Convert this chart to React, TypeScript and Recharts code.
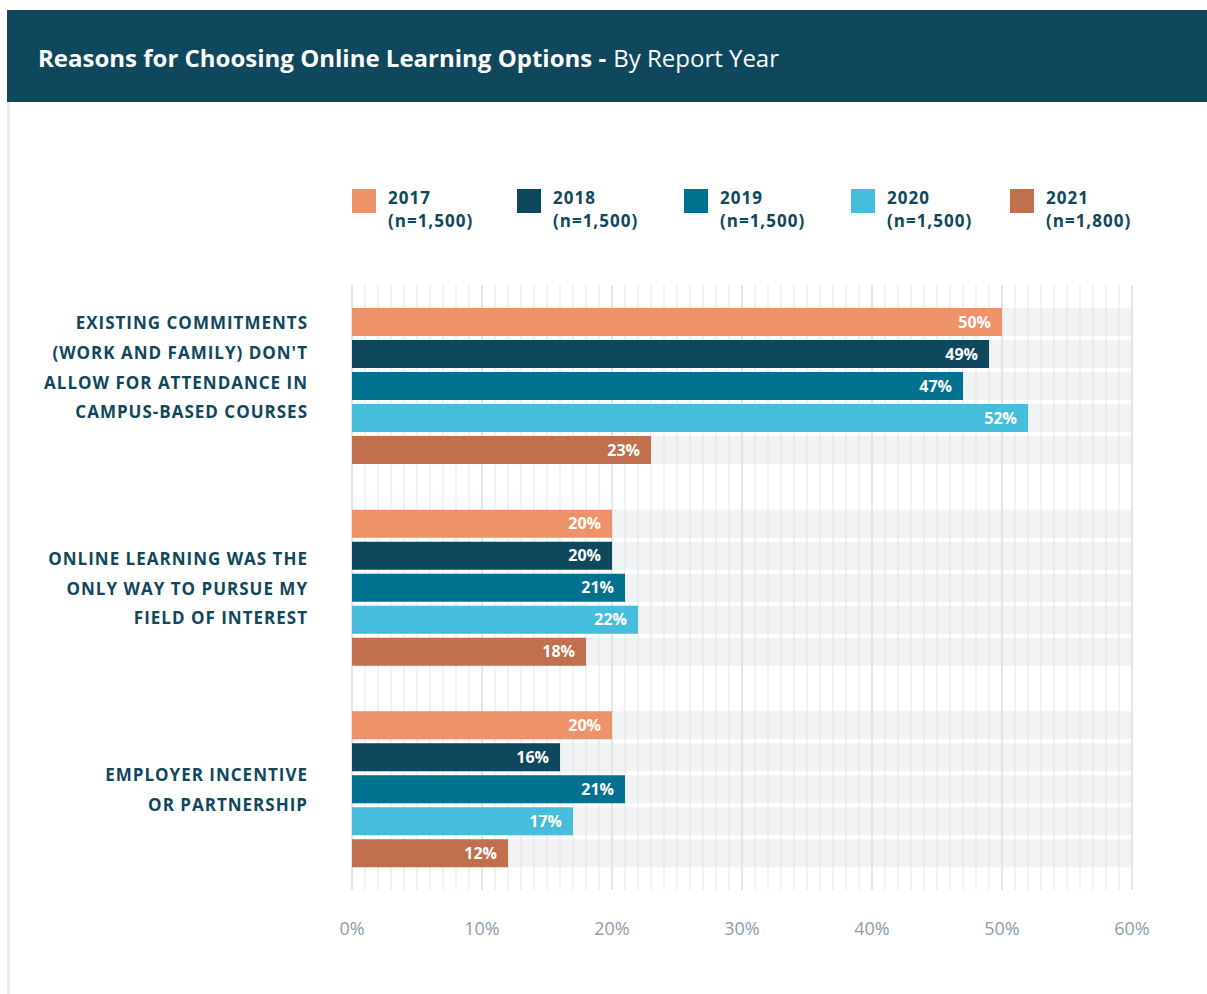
import { BarChart, Bar, XAxis, YAxis, CartesianGrid, LabelList } from "recharts";

const categories = [
  "EXISTING COMMITMENTS\n(WORK AND FAMILY) DON'T\nALLOW FOR ATTENDANCE IN\nCAMPUS-BASED COURSES",
  "ONLINE LEARNING WAS THE\nONLY WAY TO PURSUE MY\nFIELD OF INTEREST",
  "EMPLOYER INCENTIVE\nOR PARTNERSHIP",
];
const years = ["2017", "2018", "2019", "2020", "2021"];
const sampleSizes = ["(n=1,500)", "(n=1,500)", "(n=1,500)", "(n=1,500)", "(n=1,800)"];
const colors = ["#ee9369", "#0f475c", "#00718f", "#46bdda", "#c0704e"];
const v2017 = [50, 20, 20];
const v2018 = [49, 20, 16];
const v2019 = [47, 21, 21];
const v2020 = [52, 22, 17];
const v2021 = [23, 18, 12];
const xTicks = [0, 10, 20, 30, 40, 50, 60];
const minorTicks = Array.from({ length: 61 }, (_, i) => i);

const seriesValues = [v2017, v2018, v2019, v2020, v2021];
const data = categories.map((name, i) => {
  const row: Record<string, string | number> = { name };
  years.forEach((y, k) => (row[y] = seriesValues[k][i]));
  return row;
});

const FONT = "'Open Sans', sans-serif";
const DARK = "#0f475c";
const legendWidths = [165, 167, 167, 159, 159];

function CategoryTick({ x, y, payload }: any) {
  const lines = String(payload.value).split("\n");
  const lh = 29.7;
  const shift = lines.length > 3 ? -19 : 0;
  const start = y - ((lines.length - 1) * lh) / 2 + shift;
  return (
    <text
      x={x}
      y={start}
      textAnchor="end"
      fill={DARK}
      fontFamily={FONT}
      fontWeight={700}
      fontSize={17}
      letterSpacing={1}
      dominantBaseline="central"
    >
      {lines.map((l, i) => (
        <tspan key={i} x={x} y={start + i * lh}>
          {l}
        </tspan>
      ))}
    </text>
  );
}

export default function App() {
  return (
    <div
      style={{
        position: "absolute",
        width: 1200,
        height: 984,
        left: 7,
        top: 10,
        fontFamily: FONT,
        background: "#fff",
      }}
    >
      <style>{"html,body{margin:0;padding:0;overflow:hidden}"}</style>
      <div
        style={{
          position: "absolute",
          left: 0,
          top: 0,
          width: 1200,
          height: 92,
          background: DARK,
          color: "#fff",
          display: "flex",
          alignItems: "center",
          paddingLeft: 31,
          paddingTop: 3,
          boxSizing: "border-box",
          fontSize: 24,
        }}
      >
        <span style={{ fontWeight: 700 }}>Reasons for Choosing Online Learning Options -</span>
        <span style={{ fontWeight: 400, marginLeft: 7 }}>By Report Year</span>
      </div>
      <div style={{ position: "absolute", left: 0, top: 92, width: 3, height: 892, background: "#ebebeb" }} />

      <div style={{ position: "absolute", left: 345, top: 179, display: "flex" }}>
        {years.map((y, i) => (
          <div key={y} style={{ width: legendWidths[i], display: "flex", alignItems: "flex-start" }}>
            <div style={{ width: 24, height: 24, background: colors[i] }} />
            <div
              style={{
                marginLeft: 12,
                marginTop: -3,
                color: DARK,
                fontWeight: 700,
                fontSize: 17,
                letterSpacing: 1,
                lineHeight: "23px",
              }}
            >
              <div>{y}</div>
              <div>{sampleSizes[i]}</div>
            </div>
          </div>
        ))}
      </div>

      <div style={{ position: "absolute", left: 0, top: 250 }}>
        <BarChart
          width={1200}
          height={690}
          data={data}
          layout="vertical"
          margin={{ top: 25, right: 75, left: 0, bottom: 0 }}
          barCategoryGap="11.4%"
          barGap={4}
        >
          <CartesianGrid
            horizontal={false}
            stroke="#eceef1"
            strokeWidth={1.5}
            verticalCoordinatesGenerator={({ offset }: any) =>
              minorTicks.map((t) => offset.left + (t / 60) * offset.width)
            }
          />
          <CartesianGrid horizontal={false} stroke="#dde1e6" strokeWidth={1.5} />
          <XAxis
            type="number"
            domain={[0, 60]}
            ticks={xTicks}
            tickFormatter={(v) => `${v}%`}
            axisLine={false}
            tickLine={false}
            tickSize={0}
            tickMargin={32}
            height={60}
            tick={{ fill: "#8d9cab", fontSize: 18, fontFamily: FONT }}
            interval={0}
          />
          <YAxis
            type="category"
            dataKey="name"
            width={345}
            axisLine={false}
            tickLine={false}
            tickSize={0}
            tickMargin={44}
            tick={<CategoryTick />}
            interval={0}
          />
          {years.map((y, i) => (
            <Bar
              key={y}
              dataKey={y}
              fill={colors[i]}
              isAnimationActive={false}
              background={{ fill: "#dfe2e7", fillOpacity: 0.45 }}
            >
              <LabelList
                dataKey={y}
                position="insideRight"
                offset={11}
                formatter={(v: any) => `${v}%`}
                fill="#fff"
                fontSize={16}
                fontWeight={700}
                fontFamily={FONT}
              />
            </Bar>
          ))}
        </BarChart>
      </div>
    </div>
  );
}
